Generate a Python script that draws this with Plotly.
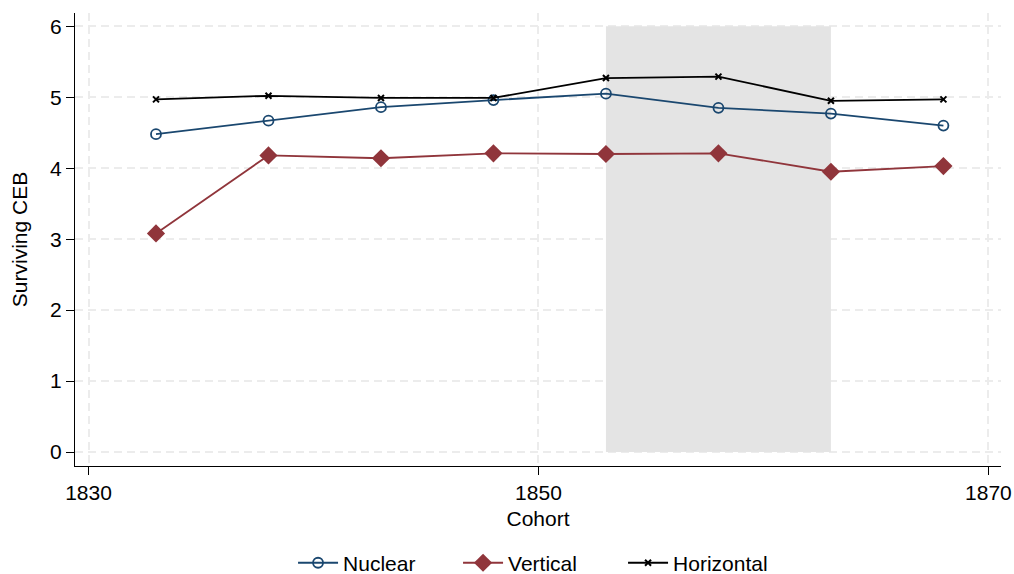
import plotly.graph_objects as go

# Birth cohorts (x) and mean surviving children ever born by household type
cohorts = [1833, 1838, 1843, 1848, 1853, 1858, 1863, 1868]
nuclear = [4.48, 4.67, 4.86, 4.96, 5.05, 4.85, 4.77, 4.60]
vertical = [3.08, 4.18, 4.14, 4.21, 4.20, 4.21, 3.95, 4.03]
horizontal = [4.97, 5.02, 4.99, 4.99, 5.27, 5.29, 4.95, 4.97]

# Highlighted cohort window
shade_x = [1853, 1863]
shade_y = [0, 6]

x_ticks = [1830, 1850, 1870]
y_ticks = [0, 1, 2, 3, 4, 5, 6]

NAVY = "#1a476f"
MAROON = "#90353b"
FONT = "Liberation Sans, Arial, Helvetica, sans-serif"
FS = 21

fig = go.Figure()

fig.add_trace(go.Scatter(
    x=cohorts, y=nuclear, name="Nuclear", mode="lines+markers",
    line=dict(color=NAVY, width=1.8),
    marker=dict(symbol="circle-open", size=10, color=NAVY, line=dict(width=1.8, color=NAVY)),
))
fig.add_trace(go.Scatter(
    x=cohorts, y=vertical, name="Vertical", mode="lines+markers",
    line=dict(color=MAROON, width=1.8),
    marker=dict(symbol="diamond", size=14, color=MAROON),
))
fig.add_trace(go.Scatter(
    x=cohorts, y=horizontal, name="Horizontal", mode="lines+markers",
    line=dict(color="black", width=1.8),
    marker=dict(symbol="x-thin", size=6, color="black", line=dict(width=2, color="black")),
))

fig.add_shape(
    type="rect", xref="x", yref="y",
    x0=shade_x[0], x1=shade_x[1], y0=shade_y[0], y1=shade_y[1],
    fillcolor="#e4e4e4", line=dict(width=0), layer="between",
)

axis_common = dict(
    showline=True, linecolor="black", linewidth=1,
    ticks="outside", ticklen=8, tickcolor="black", tickwidth=1,
    showgrid=True, gridcolor="#ececec", gridwidth=1.5, griddash="8px,5px",
    zeroline=False, mirror=False, automargin=False,
    tickfont=dict(family=FONT, size=FS, color="black"),
    title_font=dict(family=FONT, size=FS, color="black"),
)

fig.update_xaxes(
    range=[1829.4, 1870.56], tickvals=x_ticks, title_text="Cohort",
    title_standoff=8, **axis_common,
)
fig.update_yaxes(
    range=[-0.197, 6.187], tickvals=y_ticks, title_text="Surviving CEB",
    title_standoff=16, **axis_common,
)

fig.update_layout(
    width=1014, height=574,
    margin=dict(l=75, r=13, t=13, b=108, autoexpand=False),
    paper_bgcolor="white", plot_bgcolor="white",
    font=dict(family=FONT, size=FS, color="black"),
    showlegend=True,
    legend=dict(
        orientation="h", xref="container", yref="container",
        x=0.289, xanchor="left", y=0.019, yanchor="middle",
        font=dict(family=FONT, size=FS, color="black"),
        bgcolor="rgba(0,0,0,0)", itemwidth=40, entrywidth=110,
    ),
)

fig.write_html("out.html")
